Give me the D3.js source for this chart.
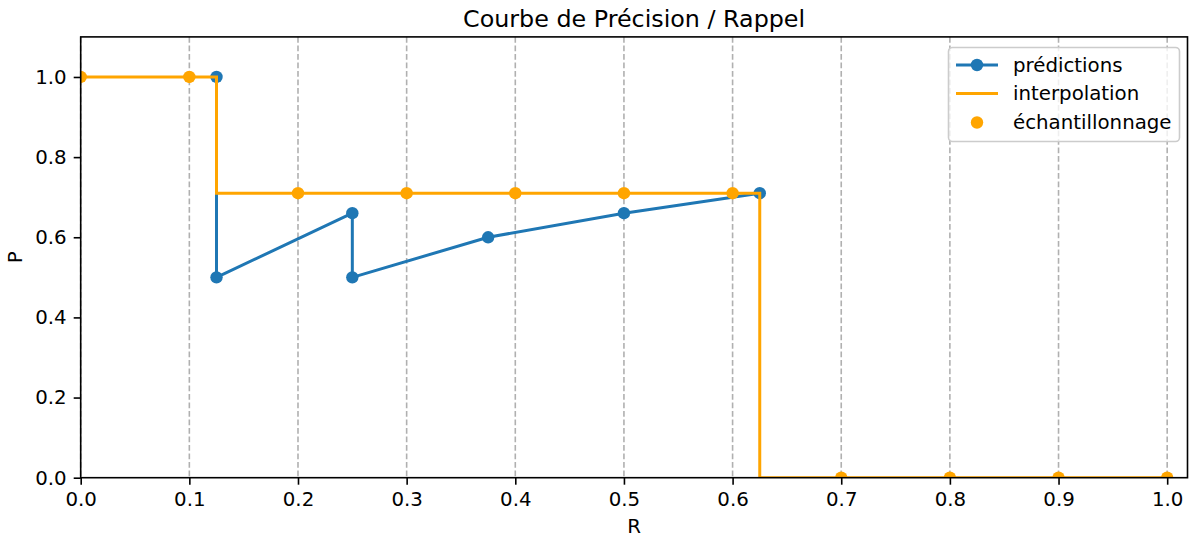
<!DOCTYPE html>
<html>
<head>
<meta charset="utf-8">
<script src="https://cdn.jsdelivr.net/npm/d3@7"></script>
<style>
  html, body { margin: 0; padding: 0; background: #fff; }
  svg { display: block; font-family: "DejaVu Sans", sans-serif; }
</style>
</head>
<body>
<svg id="chart" width="1193" height="538"></svg>
<script>
// ---- data ----
const predRecall    = [0.125, 0.125, 0.25, 0.25, 0.375, 0.5, 0.625];
const predPrecision = [1.0, 0.5, 0.66, 0.5, 0.6, 0.66, 0.71];

const interpRecall    = [0.0, 0.125, 0.625, 1.0];
const interpPrecision = [1.0, 0.71, 0.0, 0.0];

const sampleRecall    = [0.0, 0.1, 0.2, 0.3, 0.4, 0.5, 0.6, 0.7, 0.8, 0.9, 1.0];
const samplePrecision = [1.0, 1.0, 0.71, 0.71, 0.71, 0.71, 0.71, 0.0, 0.0, 0.0, 0.0];

const xTicks = [0.0, 0.1, 0.2, 0.3, 0.4, 0.5, 0.6, 0.7, 0.8, 0.9, 1.0];
const yTicks = [0.0, 0.2, 0.4, 0.6, 0.8, 1.0];

const legendLabels = ["prédictions", "interpolation", "échantillonnage"];
const titleText = "Courbe de Précision / Rappel";
const xLabel = "R";
const yLabel = "P";

// ---- layout ----
const svg = d3.select("#chart");
const L = 80.7, R = 1187.5, T = 36.9, B = 477.7;
const blue = "#1f77b4", orange = "#ffa500";
const fs = 19.8;
const lw = 3.0, mr = 6.2;

const x = d3.scaleLinear().domain([0, 1.0187]).range([L, R]);
const y = d3.scaleLinear().domain([0, 1.1]).range([B, T]);

svg.append("defs").append("clipPath").attr("id", "clip")
  .append("rect").attr("x", L).attr("y", T).attr("width", R - L).attr("height", B - T);

// grid (vertical only)
svg.append("g").selectAll("line").data(xTicks).join("line")
  .attr("x1", d => x(d)).attr("x2", d => x(d))
  .attr("y1", T).attr("y2", B)
  .attr("stroke", "#b0b0b0").attr("stroke-width", 1.6)
  .attr("stroke-dasharray", "5.9,2.6");

const plot = svg.append("g").attr("clip-path", "url(#clip)");

// predictions
const predData = predRecall.map((r, i) => [r, predPrecision[i]]);
plot.append("path")
  .attr("d", d3.line().x(d => x(d[0])).y(d => y(d[1]))(predData))
  .attr("fill", "none").attr("stroke", blue).attr("stroke-width", lw)
  .attr("stroke-linejoin", "round").attr("stroke-linecap", "butt");
plot.append("g").selectAll("circle").data(predData).join("circle")
  .attr("cx", d => x(d[0])).attr("cy", d => y(d[1])).attr("r", mr)
  .attr("fill", blue);

// interpolation (step)
const interpData = interpRecall.map((r, i) => [r, interpPrecision[i]]);
plot.append("path")
  .attr("d", d3.line().curve(d3.curveStepAfter).x(d => x(d[0])).y(d => y(d[1]))(interpData))
  .attr("fill", "none").attr("stroke", orange).attr("stroke-width", lw)
  .attr("stroke-linejoin", "miter");

// sampling
const sampleData = sampleRecall.map((r, i) => [r, samplePrecision[i]]);
plot.append("g").selectAll("circle").data(sampleData).join("circle")
  .attr("cx", d => x(d[0])).attr("cy", d => y(d[1])).attr("r", mr)
  .attr("fill", orange);

// axes
const xAxis = d3.axisBottom(x).tickValues(xTicks).tickFormat(d3.format(".1f"))
  .tickSize(7).tickPadding(7);
const yAxis = d3.axisLeft(y).tickValues(yTicks).tickFormat(d3.format(".1f"))
  .tickSize(7).tickPadding(7);

const gx = svg.append("g").attr("transform", `translate(0,${B})`).call(xAxis);
const gy = svg.append("g").attr("transform", `translate(${L},0)`).call(yAxis);
[gx, gy].forEach(g => {
  g.select(".domain").remove();
  g.selectAll(".tick line").attr("stroke", "#000").attr("stroke-width", 1.6);
  g.selectAll(".tick text").attr("fill", "#000").style("font-size", fs + "px")
    .style("font-family", "'DejaVu Sans', sans-serif");
});

// spines
svg.append("rect").attr("x", L).attr("y", T).attr("width", R - L).attr("height", B - T)
  .attr("fill", "none").attr("stroke", "#000").attr("stroke-width", 1.6);

// title and labels
svg.append("text").attr("x", (L + R) / 2).attr("y", 27).attr("text-anchor", "middle")
  .style("font-size", "23.8px").text(titleText);
svg.append("text").attr("x", (L + R) / 2).attr("y", 533).attr("text-anchor", "middle")
  .style("font-size", fs + "px").text(xLabel);
svg.append("text").attr("transform", `translate(22,${(T + B) / 2}) rotate(-90)`)
  .attr("text-anchor", "middle").style("font-size", fs + "px").text(yLabel);

// legend
const lg = svg.append("g");
lg.append("rect").attr("x", 948.5).attr("y", 47.5).attr("width", 231).attr("height", 94)
  .attr("rx", 4).attr("fill", "#fff").attr("fill-opacity", 0.8)
  .attr("stroke", "#cccccc").attr("stroke-width", 1.6);
const rows = [65, 93.5, 122.5];
const hx0 = 956, hx1 = 998, hxm = 977, tx = 1013;
// predictions
lg.append("line").attr("x1", hx0).attr("x2", hx1).attr("y1", rows[0]).attr("y2", rows[0])
  .attr("stroke", blue).attr("stroke-width", lw);
lg.append("circle").attr("cx", hxm).attr("cy", rows[0]).attr("r", mr).attr("fill", blue);
// interpolation
lg.append("line").attr("x1", hx0).attr("x2", hx1).attr("y1", rows[1]).attr("y2", rows[1])
  .attr("stroke", orange).attr("stroke-width", lw);
// sampling
lg.append("circle").attr("cx", hxm).attr("cy", rows[2]).attr("r", mr).attr("fill", orange);
lg.selectAll("text.lab").data(legendLabels).join("text").attr("class", "lab")
  .attr("x", tx).attr("y", (d, i) => rows[i]).attr("dy", "0.35em")
  .style("font-size", fs + "px").text(d => d);
</script>
</body>
</html>
